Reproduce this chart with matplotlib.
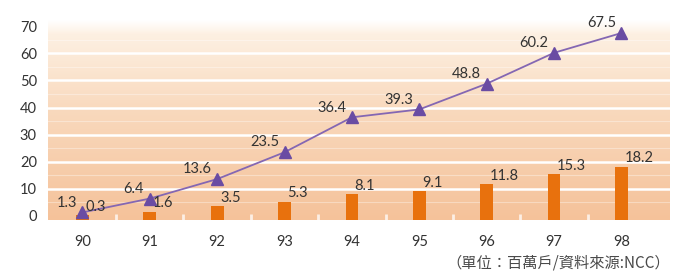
import matplotlib
matplotlib.use("Agg")
import matplotlib.pyplot as plt
import numpy as np
from matplotlib.colors import LinearSegmentedColormap

years = ["90", "91", "92", "93", "94", "95", "96", "97", "98"]
line_values = [1.3, 6.4, 13.6, 23.5, 36.4, 39.3, 48.8, 60.2, 67.5]
bar_values = [0.3, 1.6, 3.5, 5.3, 8.1, 9.1, 11.8, 15.3, 18.2]
y_ticks = [0, 10, 20, 30, 40, 50, 60, 70]
footnote = "（單位：百萬戶/資料來源:NCC）"

plt.rcParams['font.family'] = ['Lato', 'Noto Sans CJK TC', 'DejaVu Sans']

fig = plt.figure(figsize=(6.76, 2.74), dpi=100)
ax = fig.add_axes([48/676, 1-220/274, (670-48)/676, 200/274])

x = np.arange(len(years))
ymin, ymax = -1.5, 72.3
xmin, xmax = -0.51, 8.72
ax.set_xlim(xmin, xmax)
ax.set_ylim(ymin, ymax)

# background gradient
cmap = LinearSegmentedColormap.from_list(
    "bg", [(0.0, "#f5c29a"), (0.55, "#f9d9bd"), (0.93, "#fdf0e2"), (1.0, "#ffffff")])
grad = np.linspace(0, 1, 256).reshape(-1, 1)
ax.imshow(grad, cmap=cmap, origin="lower", aspect="auto",
          extent=[xmin, xmax, ymin, ymax], zorder=0)

# white grid lines
for t in y_ticks[1:-1]:
    ax.axhline(t, color="white", lw=1.8, zorder=1)
    ax.axhline(t - 5, color="white", lw=0.8, alpha=0.35, zorder=1)
ax.axhline(65, color="white", lw=0.8, alpha=0.35, zorder=1)

# small white separators at bottom
for i in range(len(years) - 1):
    ax.plot([i + 0.5, i + 0.5], [ymin, ymin + 2.3], color="white", lw=2.0, alpha=0.75,
            zorder=1, solid_capstyle="butt")

# bars
bar_h = [v - ymin for v in bar_values]
ax.bar(x, bar_h, bottom=ymin, width=0.19, color="#e8710d", zorder=2)

# line
ax.plot(x, line_values, color="#8467b3", lw=1.3, zorder=3)
ax.plot(x, line_values, ls="none", marker="^", ms=8.5, color="#6a4ca3", zorder=4)

for xi, v in zip(x, line_values):
    ax.annotate(f"{v:.1f}", (xi, v), xytext=(-4, 2), textcoords="offset points",
                ha="right", va="bottom", fontsize=10.5, color="#333333", zorder=5)
for xi, v in zip(x, bar_values):
    ax.annotate(f"{v:.1f}", (xi, v), xytext=(2, 1), textcoords="offset points",
                ha="left", va="bottom", fontsize=10.5, color="#333333", zorder=5)

ax.set_xticks(x)
ax.set_xticklabels(years)
ax.set_yticks(y_ticks)
ax.tick_params(axis="both", length=0, labelsize=10.5, colors="#333333")
ax.tick_params(axis="x", pad=11)
ax.tick_params(axis="y", pad=8)
for s in ax.spines.values():
    s.set_visible(False)

fig.text(670/676, 1-263/274, footnote, ha="right", va="center", fontsize=11,
         color="#4a4a4a", family=['Noto Sans CJK TC', 'DejaVu Sans'])

fig.savefig("out.png", dpi=100)
